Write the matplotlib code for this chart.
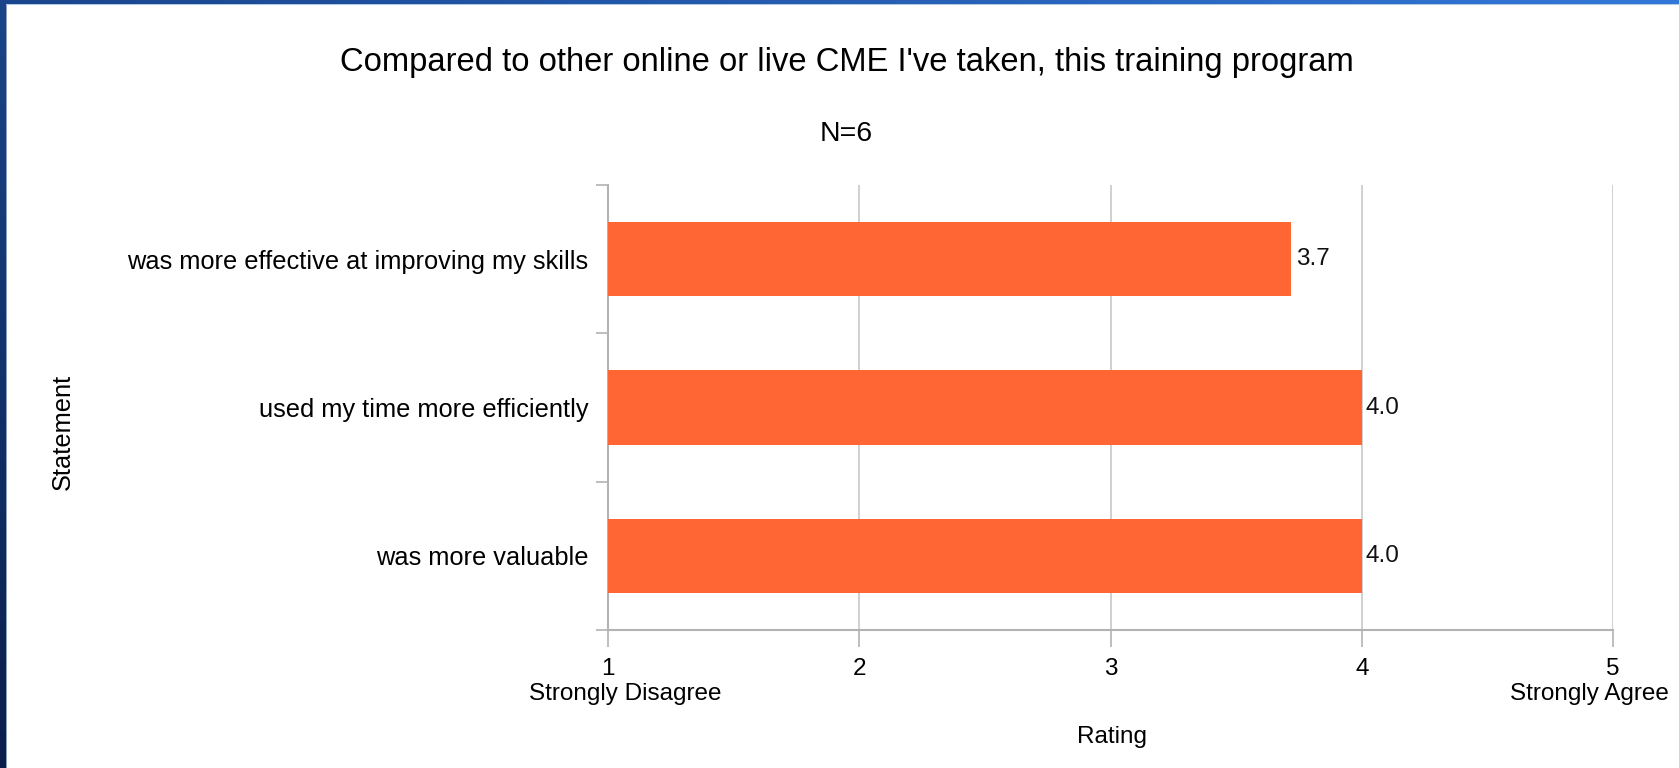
import numpy as np
import matplotlib
matplotlib.use("Agg")
import matplotlib.pyplot as plt

categories = ["was more effective at improving my skills",
              "used my time more efficiently",
              "was more valuable"]
ratings = [3.72, 4.0, 4.0]
xticks = [1, 2, 3, 4, 5]
xtick_labels = ["1", "2", "3", "4", "5"]
anchor_labels = ["Strongly Disagree", "Strongly Agree"]
title = "Compared to other online or live CME I've taken, this training program"
subtitle = "N=6"

plt.rcParams['font.family'] = ['Liberation Sans', 'DejaVu Sans']

W, H = 1679, 768
fig = plt.figure(figsize=(W / 100, H / 100), dpi=100)

# slide-style border background
bg = np.ones((H, W, 3))
top_c = np.array([0.10, 0.27, 0.54])
bot_c = np.array([0.04, 0.12, 0.29])
t = np.linspace(0, 1, H)[:, None]
bg[:, :6, :] = (top_c * (1 - t) + bot_c * t)[:, None, :]
bg[:, 6, :] = (0.55, 0.62, 0.75)
s = np.linspace(0, 1, W)[:, None]
left_c = np.array([0.10, 0.27, 0.55])
right_c = np.array([0.20, 0.47, 0.85])
bg[:4, :, :] = (left_c * (1 - s) + right_c * s)[None, :, :]
bg[4, 6:, :] = (0.70, 0.78, 0.90)
bax = fig.add_axes([0, 0, 1, 1], zorder=-10)
bax.imshow(bg, aspect='auto', interpolation='nearest')
bax.axis('off')

ax = fig.add_axes([608 / W, 1 - 630 / H, (1613 - 608) / W, (630 - 185) / H])
y = np.arange(len(categories))
bars = ax.barh(y, ratings, height=0.5, color='#ff6633', zorder=3)
ax.set_xlim(1, 5)
ax.set_ylim(len(categories) - 0.5, -0.5)

ax.bar_label(bars, fmt='%.1f', padding=3, fontsize=17.5, color='#111111')

ax.set_yticks(y)
ax.set_yticklabels(categories, fontsize=18.3)
ax.set_yticks(np.arange(len(categories) + 1) - 0.5, minor=True)
ax.tick_params(axis='y', which='major', length=0, pad=14)
ax.tick_params(axis='y', which='minor', length=9, width=1.2, color='#b3b3b3', direction='out')

ax.set_xticks(xticks)
ax.set_xticklabels(xtick_labels, fontsize=17.5)
ax.tick_params(axis='x', length=12, width=1.2, color='#b3b3b3', direction='out', pad=8)

ax.grid(axis='x', color='#c4c4c4', linewidth=1.1, zorder=0)
for sp in ['top', 'right']:
    ax.spines[sp].set_visible(False)
for sp in ['left', 'bottom']:
    ax.spines[sp].set_color('#b3b3b3')
    ax.spines[sp].set_linewidth(1.5)
ax.set_axisbelow(True)

# scale end descriptions under ticks 1 and 5
fig.text(625 / W, 1 - 700 / H, anchor_labels[0], ha='center', va='baseline', fontsize=17.5)
fig.text(1669 / W, 1 - 700 / H, anchor_labels[1], ha='right', va='baseline', fontsize=17.5)

fig.text(847 / W, 1 - 71 / H, title, ha='center', va='baseline', fontsize=23.6)
fig.text(846 / W, 1 - 140.7 / H, subtitle, ha='center', va='baseline', fontsize=20.5)
fig.text(1112 / W, 1 - 743 / H, "Rating", ha='center', va='baseline', fontsize=17.5)
fig.text(63 / W, 1 - 432 / H, "Statement", ha='center', va='center', rotation=90, fontsize=18.3)

fig.savefig("out.png", dpi=100)
